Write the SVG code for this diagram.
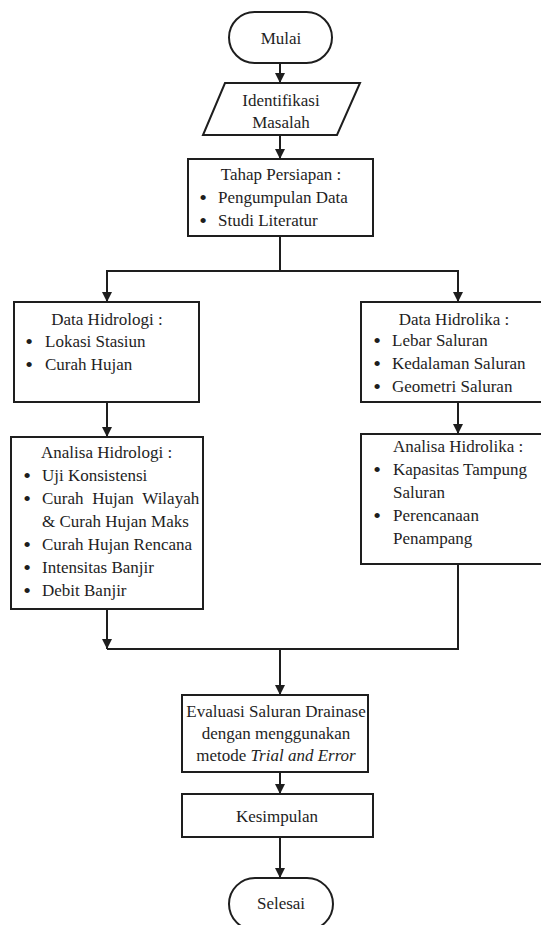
<svg xmlns="http://www.w3.org/2000/svg" width="541" height="925" viewBox="0 0 541 925">
<defs>
<style>
.s{fill:#fff;stroke:#1e1e1e;stroke-width:2}
.c{fill:none;stroke:#1e1e1e;stroke-width:2}
text{font-family:"Liberation Serif","Times New Roman",serif;font-size:17px;fill:#1e1e1e}
.m{text-anchor:middle}
.b{text-anchor:middle;font-size:22px}
</style>
<marker id="ah" markerUnits="userSpaceOnUse" markerWidth="10" markerHeight="10" refX="10" refY="5" orient="auto" viewBox="0 0 10 10">
<path d="M0,0 L10,5 L0,10 z" fill="#1e1e1e"/>
</marker>
</defs>
<rect width="541" height="925" fill="#fff"/>
<g id="connectors">
<path class="c" d="M280,63 V83" marker-end="url(#ah)"/>
<path class="c" d="M280,135 V159" marker-end="url(#ah)"/>
<path class="c" d="M280,236 V271 H107 V302" marker-end="url(#ah)"/>
<path class="c" d="M280,271 H458 V302" marker-end="url(#ah)"/>
<path class="c" d="M107,402 V437" marker-end="url(#ah)"/>
<path class="c" d="M458,402 V434" marker-end="url(#ah)"/>
<path class="c" d="M107,609 V649" marker-end="url(#ah)"/>
<path class="c" d="M107,649 H458 V564"/>
<path class="c" d="M280,649 V695" marker-end="url(#ah)"/>
<path class="c" d="M280,772 V794" marker-end="url(#ah)"/>
<path class="c" d="M280,837 V878" marker-end="url(#ah)"/>
</g>
<g id="mulai">
<rect class="s" x="229" y="12" width="103" height="51" rx="25.5"/>
<text class="m" x="281" y="44">Mulai</text>
</g>
<g id="identifikasi">
<polygon class="s" points="225,83 360,83 337,135 203,135"/>
<text class="m" x="281" y="106">Identifikasi</text>
<text class="m" x="281" y="128">Masalah</text>
</g>
<g id="persiapan">
<rect class="s" x="188" y="159" width="185" height="77"/>
<text class="m" x="281" y="180">Tahap Persiapan :</text>
<text class="b" x="203" y="205">•</text><text x="218" y="203">Pengumpulan Data</text>
<text class="b" x="203" y="228">•</text><text x="218" y="226">Studi Literatur</text>
</g>
<g id="data-hidrologi">
<rect class="s" x="14" y="302" width="185" height="100"/>
<text class="m" x="107" y="325">Data Hidrologi :</text>
<text class="b" x="29" y="349">•</text><text x="45" y="347">Lokasi Stasiun</text>
<text class="b" x="29" y="372">•</text><text x="45" y="370">Curah Hujan</text>
</g>
<g id="data-hidrolika">
<rect class="s" x="361" y="302" width="186" height="100"/>
<text class="m" x="454" y="325">Data Hidrolika :</text>
<text class="b" x="377" y="348">•</text><text x="392" y="346">Lebar Saluran</text>
<text class="b" x="377" y="371">•</text><text x="392" y="369">Kedalaman Saluran</text>
<text class="b" x="377" y="394">•</text><text x="392" y="392">Geometri Saluran</text>
</g>
<g id="analisa-hidrologi">
<rect class="s" x="11" y="437" width="192" height="172"/>
<text x="41" y="458">Analisa Hidrologi :</text>
<text class="b" x="27" y="483">•</text><text x="42" y="481">Uji Konsistensi</text>
<text class="b" x="27" y="506">•</text><text x="42" y="504" word-spacing="4.5">Curah Hujan Wilayah</text>
<text x="42" y="527">&amp; Curah Hujan Maks</text>
<text class="b" x="27" y="552">•</text><text x="42" y="550">Curah Hujan Rencana</text>
<text class="b" x="27" y="575">•</text><text x="42" y="573">Intensitas Banjir</text>
<text class="b" x="27" y="598">•</text><text x="42" y="596">Debit Banjir</text>
</g>
<g id="analisa-hidrolika">
<rect class="s" x="361" y="434" width="186" height="130"/>
<text x="393" y="452">Analisa Hidrolika :</text>
<text class="b" x="377" y="477">•</text><text x="393" y="475">Kapasitas Tampung</text>
<text x="393" y="498">Saluran</text>
<text class="b" x="377" y="523">•</text><text x="393" y="521">Perencanaan</text>
<text x="393" y="544">Penampang</text>
</g>
<g id="evaluasi">
<rect class="s" x="182" y="695" width="186" height="77"/>
<text class="m" x="276" y="717">Evaluasi Saluran Drainase</text>
<text class="m" x="276" y="739">dengan menggunakan</text>
<text class="m" x="276" y="761">metode <tspan font-style="italic">Trial and Error</tspan></text>
</g>
<g id="kesimpulan">
<rect class="s" x="182" y="794" width="191" height="43"/>
<text class="m" x="277" y="822">Kesimpulan</text>
</g>
<g id="selesai">
<rect class="s" x="229" y="878" width="104" height="52" rx="26"/>
<text class="m" x="281" y="909">Selesai</text>
</g>
</svg>
